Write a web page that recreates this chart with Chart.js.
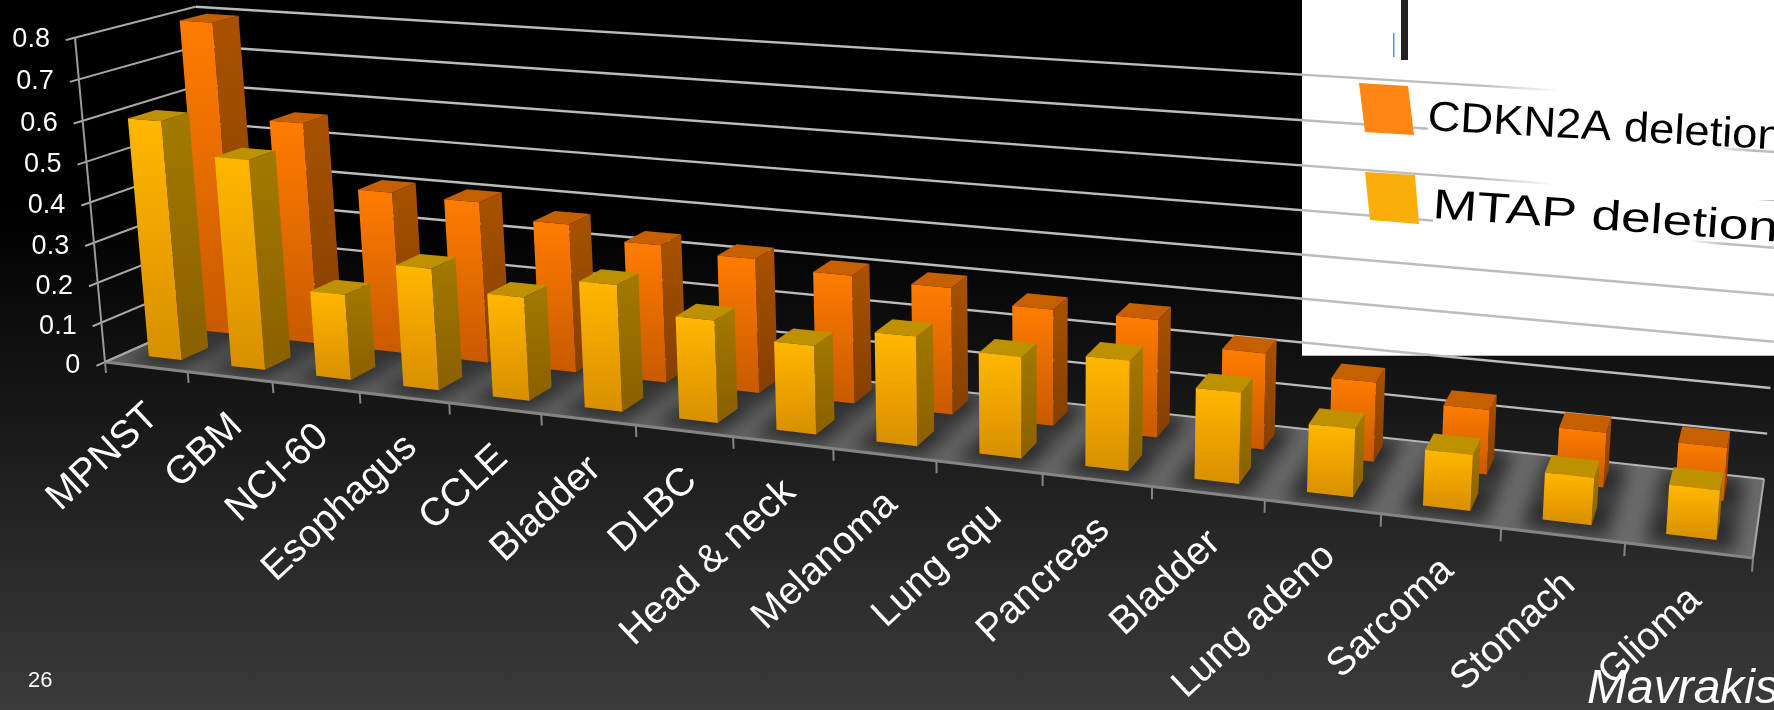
<!DOCTYPE html>
<html>
<head>
<meta charset="utf-8">
<title>CDKN2A and MTAP deletion frequency</title>
<script src="https://cdn.jsdelivr.net/npm/chart.js@4"></script>
<style>
  html, body { margin: 0; height: 100%; overflow: hidden; }
  body { background: linear-gradient(#000 0%, #000 30%, #3b3b3b 100%); }
  canvas { display: block; }
</style>
</head>
<body>
<canvas id="chart" width="1774" height="710"></canvas>
<script>
const categories = ["MPNST", "GBM", "NCI-60", "Esophagus", "CCLE", "Bladder", "DLBC", "Head & neck",
  "Melanoma", "Lung squ", "Pancreas", "Bladder", "Lung adeno", "Sarcoma", "Stomach", "Glioma"];
const cdkn2aValues = [0.795, 0.56, 0.405, 0.4, 0.365, 0.335, 0.323, 0.305, 0.298, 0.27, 0.27, 0.218, 0.178, 0.143, 0.12, 0.115];
const mtapValues = [0.595, 0.518, 0.21, 0.295, 0.248, 0.3, 0.24, 0.205, 0.25, 0.228, 0.245, 0.2, 0.148, 0.12, 0.1, 0.103];

// floor of the box on screen: front left, front right, back right, back left
const floor = [[105, 362], [1753, 558], [1764, 479], [220, 311]];
// verticals all run towards one vanishing point far below the chart
const verticalVanish = [1050, 10567];
const verticalWeight = -0.0308;

// depth of each series row on the floor, 0 = front edge, 1 = back edge
const rowDepth = [[0.65, 0.88], [0.16, 0.39]];

const faces = [
  { front: ["#ff7c00", "#c85a00"], side: ["#a85200", "#853f00"], top: "#c65f00" },
  { front: ["#ffb700", "#d88f00"], side: ["#a37a00", "#8a5f00"], top: "#bf9000" },
];

const H = (function () {
  const [p0, p1, p2, p3] = floor;
  const sx = p0[0] - p1[0] + p2[0] - p3[0];
  const sy = p0[1] - p1[1] + p2[1] - p3[1];
  const dx1 = p1[0] - p2[0], dx2 = p3[0] - p2[0];
  const dy1 = p1[1] - p2[1], dy2 = p3[1] - p2[1];
  const det = dx1 * dy2 - dx2 * dy1;
  const g = (sx * dy2 - dx2 * sy) / det;
  const h = (dx1 * sy - sx * dy1) / det;
  return {
    a: [p1[0] - p0[0] + g * p1[0], p1[1] - p0[1] + g * p1[1], g],
    b: [p3[0] - p0[0] + h * p3[0], p3[1] - p0[1] + h * p3[1], h],
    c: [verticalVanish[0] * verticalWeight, verticalVanish[1] * verticalWeight, verticalWeight],
    d: [p0[0], p0[1], 1],
  };
})();

// u along the categories, v into the depth, w up the value axis, all 0..1
function project(u, v, w) {
  const p = [0, 1, 2].map((i) => H.a[i] * u + H.b[i] * v + H.c[i] * w + H.d[i]);
  return [p[0] / p[2], p[1] / p[2]];
}

function poly(ctx, points) {
  ctx.beginPath();
  points.forEach((p, i) => (i ? ctx.lineTo(p[0], p[1]) : ctx.moveTo(p[0], p[1])));
  ctx.closePath();
}

function line(ctx, a, b, color, width) {
  ctx.strokeStyle = color;
  ctx.lineWidth = width;
  ctx.beginPath();
  ctx.moveTo(a[0], a[1]);
  ctx.lineTo(b[0], b[1]);
  ctx.stroke();
}

function fillFace(ctx, points, colors) {
  const ys = points.map((p) => p[1]);
  const grad = ctx.createLinearGradient(0, Math.min(...ys), 0, Math.max(...ys));
  grad.addColorStop(0, colors[0]);
  grad.addColorStop(1, colors[1]);
  poly(ctx, points);
  ctx.fillStyle = grad;
  ctx.fill();
}

function whitePatch(ctx, x0, x1, y0, y1, fadeLeft, fadeRight) {
  const grad = ctx.createLinearGradient(x0, 0, x1, 0);
  const span = x1 - x0;
  grad.addColorStop(0, fadeLeft ? "rgba(255,255,255,0)" : "#fff");
  grad.addColorStop(fadeLeft ? fadeLeft / span : 0, "#fff");
  grad.addColorStop(fadeRight ? 1 - fadeRight / span : 1, "#fff");
  grad.addColorStop(1, fadeRight ? "rgba(255,255,255,0)" : "#fff");
  ctx.fillStyle = grad;
  ctx.fillRect(x0, y0, span, y1 - y0);
}

function barBox(chart, bar, row) {
  const xs = chart.scales.x, ys = chart.scales.y;
  return {
    u0: (bar.x - bar.width / 2 - xs.left) / xs.width,
    u1: (bar.x + bar.width / 2 - xs.left) / xs.width,
    v0: rowDepth[row][0],
    v1: rowDepth[row][1],
    w: (ys.bottom - bar.y) / ys.height,
  };
}

function drawFloor(chart, ctx) {
  const corners = [project(0, 0, 0), project(1, 0, 0), project(1, 1, 0), project(0, 1, 0)];
  const shade = ctx.createLinearGradient(corners[0][0], 0, corners[1][0], 0);
  shade.addColorStop(0, "#606060");
  shade.addColorStop(1, "#6c6c6c");
  ctx.save();
  poly(ctx, corners);
  ctx.fillStyle = shade;
  ctx.fill();
  ctx.clip();
  // soft contact shadow round every bar
  ctx.filter = "blur(9px)";
  ctx.fillStyle = "rgba(20,20,20,0.72)";
  chart.data.datasets.forEach((ds, row) => {
    chart.getDatasetMeta(row).data.forEach((bar) => {
      const b = barBox(chart, bar, row);
      const padU = 0.009, padV = 0.13;
      poly(ctx, [project(b.u0 - padU, b.v0 - padV, 0), project(b.u1 + padU, b.v0 - padV, 0),
        project(b.u1 + padU, b.v1 + padV, 0), project(b.u0 - padU, b.v1 + padV, 0)]);
      ctx.fill();
    });
  });
  ctx.restore();
  line(ctx, corners[3], corners[2], "#b4b4b4", 2);
  line(ctx, corners[1], corners[2], "#a8a8a8", 2);
  line(ctx, corners[0], corners[3], "#9a9a9a", 2);
  line(ctx, corners[0], corners[1], "#858585", 3);
}

function drawWalls(chart, ctx) {
  const ys = chart.scales.y;
  ys.ticks.forEach((tick) => {
    const w = (ys.bottom - ys.getPixelForValue(tick.value)) / ys.height;
    if (w > 0) line(ctx, project(0, 1, w), project(1, 1, w), "#bcbcbc", 2.4);
    line(ctx, project(0, -0.07, w), project(0, 1, w), "#a8a8a8", 2);
  });
  line(ctx, project(0, 0, 0), project(0, 0, 1), "#9a9a9a", 2);
}

function drawPanel(ctx) {
  ctx.fillStyle = "#fff";
  ctx.fillRect(1302, 0, 472, 355);
  ctx.fillStyle = "#bdbdbd";
  ctx.fillRect(1302, 355, 472, 1);
  ctx.fillStyle = "#222";
  ctx.fillRect(1401, 0, 7, 60);
  ctx.fillStyle = "#3aa0e0";
  ctx.fillRect(1393, 33, 1.5, 24);
}

function drawLegend(chart, ctx) {
  // gridlines drop out behind the legend texts
  whitePatch(ctx, 1480, 1774, 78, 116, 80, 0);
  whitePatch(ctx, 1428, 1750, 120, 160, 0, 40);
  whitePatch(ctx, 1480, 1774, 165, 200, 75, 0);
  whitePatch(ctx, 1433, 1725, 212, 248, 0, 35);

  const swatches = [
    [[1359, 83], [1408, 86], [1414, 135], [1365, 132]],
    [[1365, 172], [1415, 175], [1419, 224], [1370, 220]],
  ];
  const swatchColors = ["#ff8614", "#f9ae09"];
  const anchors = [[1427, 130, 0.055, 1.08], [1432, 218, 0.068, 1.27]];
  chart.data.datasets.forEach((ds, i) => {
    poly(ctx, swatches[i]);
    ctx.fillStyle = swatchColors[i];
    ctx.fill();
    ctx.save();
    ctx.translate(anchors[i][0], anchors[i][1]);
    ctx.rotate(anchors[i][2]);
    ctx.scale(anchors[i][3], 1);
    ctx.fillStyle = "#000";
    ctx.font = '42px "Liberation Sans"';
    ctx.textAlign = "left";
    ctx.textBaseline = "alphabetic";
    ctx.fillText(ds.label, 0, 0);
    ctx.restore();
  });
}

function drawBars(chart, ctx) {
  chart.data.datasets.forEach((ds, row) => {
    const colors = faces[row];
    chart.getDatasetMeta(row).data.forEach((bar) => {
      const b = barBox(chart, bar, row);
      const fl0 = project(b.u0, b.v0, 0), fr0 = project(b.u1, b.v0, 0), br0 = project(b.u1, b.v1, 0);
      const fl1 = project(b.u0, b.v0, b.w), fr1 = project(b.u1, b.v0, b.w);
      const br1 = project(b.u1, b.v1, b.w), bl1 = project(b.u0, b.v1, b.w);
      fillFace(ctx, [fr1, br1, br0, fr0], colors.side);
      poly(ctx, [fl1, fr1, br1, bl1]);
      ctx.fillStyle = colors.top;
      ctx.fill();
      fillFace(ctx, [fl1, fr1, fr0, fl0], colors.front);
    });
  });
}

function drawAxisText(chart, ctx) {
  const xs = chart.scales.x, ys = chart.scales.y;
  ctx.fillStyle = "#fff";

  ctx.font = '27px "Liberation Sans"';
  ctx.textAlign = "right";
  ctx.textBaseline = "middle";
  ys.ticks.forEach((tick) => {
    const w = (ys.bottom - ys.getPixelForValue(tick.value)) / ys.height;
    const p = project(0, -0.07, w);
    ctx.fillText(tick.label, p[0] - 16, p[1]);
  });

  categories.forEach((name, i) => {
    const u0 = i / categories.length, u1 = (i + 1) / categories.length;
    line(ctx, project(u0, 0, 0), project(u0, 0, -0.035), "#858585", 2);
    if (i === categories.length - 1) line(ctx, project(u1, 0, 0), project(u1, 0, -0.035), "#858585", 2);

    const p = project((xs.getPixelForValue(i) - xs.left) / xs.width, 0, 0);
    ctx.save();
    ctx.translate(p[0] + 7, p[1] + 44);
    ctx.rotate(-43 * Math.PI / 180);
    ctx.font = '39px "Liberation Sans"';
    ctx.textAlign = "right";
    ctx.textBaseline = "middle";
    ctx.fillText(xs.getLabelForValue(i), 0, 0);
    ctx.restore();
  });

  ctx.textAlign = "left";
  ctx.textBaseline = "alphabetic";
  ctx.font = '22px "Liberation Sans"';
  ctx.fillText("26", 28, 687);
  ctx.font = 'italic 48px "Liberation Sans"';
  ctx.fillText("Mavrakis", 1587, 703);
}

// the bar elements stay transparent, their geometry is redrawn as boxes in the projected space
const boxPlugin = {
  id: "box3d",
  beforeDatasetsDraw(chart) {
    const ctx = chart.ctx;
    drawPanel(ctx);
    drawFloor(chart, ctx);
    drawWalls(chart, ctx);
    drawLegend(chart, ctx);
    drawBars(chart, ctx);
    drawAxisText(chart, ctx);
  },
};

new Chart(document.getElementById("chart"), {
  type: "bar",
  data: {
    labels: categories,
    datasets: [
      { label: "CDKN2A deletion", data: cdkn2aValues, backgroundColor: "transparent" },
      { label: "MTAP deletion", data: mtapValues, backgroundColor: "transparent" },
    ],
  },
  options: {
    responsive: false,
    animation: false,
    grouped: false,
    barPercentage: 0.4,
    categoryPercentage: 1,
    layout: { padding: 0 },
    plugins: { legend: { display: false }, tooltip: { enabled: false } },
    scales: {
      x: { display: false },
      y: { display: false, min: 0, max: 0.8, ticks: { stepSize: 0.1 } },
    },
  },
  plugins: [boxPlugin],
});
</script>
</body>
</html>
